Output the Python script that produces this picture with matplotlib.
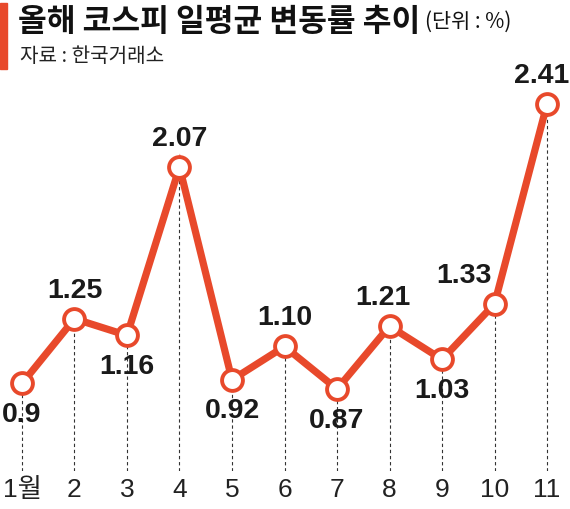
import matplotlib
matplotlib.use("Agg")
import matplotlib.pyplot as plt

# ── Data ───────────────────────────────────────────────────────────────────────
months = [1, 2, 3, 4, 5, 6, 7, 8, 9, 10, 11]
tick_labels = ["1월", "2", "3", "4", "5", "6", "7", "8", "9", "10", "11"]
volatility = [0.9, 1.25, 1.16, 2.07, 0.92, 1.10, 0.87, 1.21, 1.03, 1.33, 2.41]
value_labels = ["0.9", "1.25", "1.16", "2.07", "0.92", "1.10", "0.87", "1.21", "1.03", "1.33", "2.41"]
# label placement: above / below the point, plus a small horizontal nudge (points)
label_side = ["below", "above", "below", "above", "below", "above",
              "below", "above", "below", "above", "above"]
label_dx = [0, 0, 0, 0, 0, 0, 0, -5, 0, -22, -4]

RED = "#E8492B"
NUM_FONT = ["Liberation Sans", "Noto Sans CJK KR", "DejaVu Sans"]
KR_FONT = ["Noto Sans CJK KR", "DejaVu Sans"]

fig = plt.figure(figsize=(5.7, 5.1), dpi=100)
ax = fig.add_axes([0, 38 / 510, 1, (472 - 80) / 510])
ax.set_xlim(0.581, 11.438)
ax.set_ylim(0.427, 2.546)
ax.axis("off")
ybot = ax.get_ylim()[0]

# dashed drop lines
ax.vlines(months, ybot, volatility, colors="#333333",
          linestyles=(0, (3, 2.5)), linewidth=0.8, zorder=1)

# main line + markers
ax.plot(months, volatility, color=RED, linewidth=5.2, solid_joinstyle="miter", zorder=2)
ax.plot(months, volatility, "o", markersize=15, markerfacecolor="white",
        markeredgecolor=RED, markeredgewidth=2.8, zorder=3)

for x, y, lab, side, dx in zip(months, volatility, value_labels, label_side, label_dx):
    dy = 21 if side == "above" else -22
    ax.annotate(lab, (x, y), xytext=(dx, dy), textcoords="offset points",
                ha="center", va="center", fontsize=20.5, fontweight="bold",
                family=NUM_FONT, color="#1a1a1a", zorder=4)

# x tick labels below the axes
for x, lab in zip(months, tick_labels):
    ax.annotate(lab, (x, ybot), xytext=(0, -4), textcoords="offset points",
                ha="center", va="top", fontsize=19,
                family=NUM_FONT, color="#222222")

# title block
fig.patches.append(plt.Rectangle((0, 1 - 70 / 510), 7 / 570, 66 / 510,
                                 transform=fig.transFigure, color=RED))
fig.text(18 / 570, 1 - 22 / 510, "올해 코스피 일평균 변동률 추이", fontsize=22.5,
         fontweight=900, family=KR_FONT, va="center", ha="left", color="#111111")
fig.text(425 / 570, 1 - 22 / 510, "(단위 : %)", fontsize=15,
         family=KR_FONT, va="center", ha="left", color="#111111")
fig.text(20 / 570, 1 - 56 / 510, "자료 : 한국거래소", fontsize=14.5,
         family=KR_FONT, va="center", ha="left", color="#222222")

fig.savefig("out.png", dpi=100)
